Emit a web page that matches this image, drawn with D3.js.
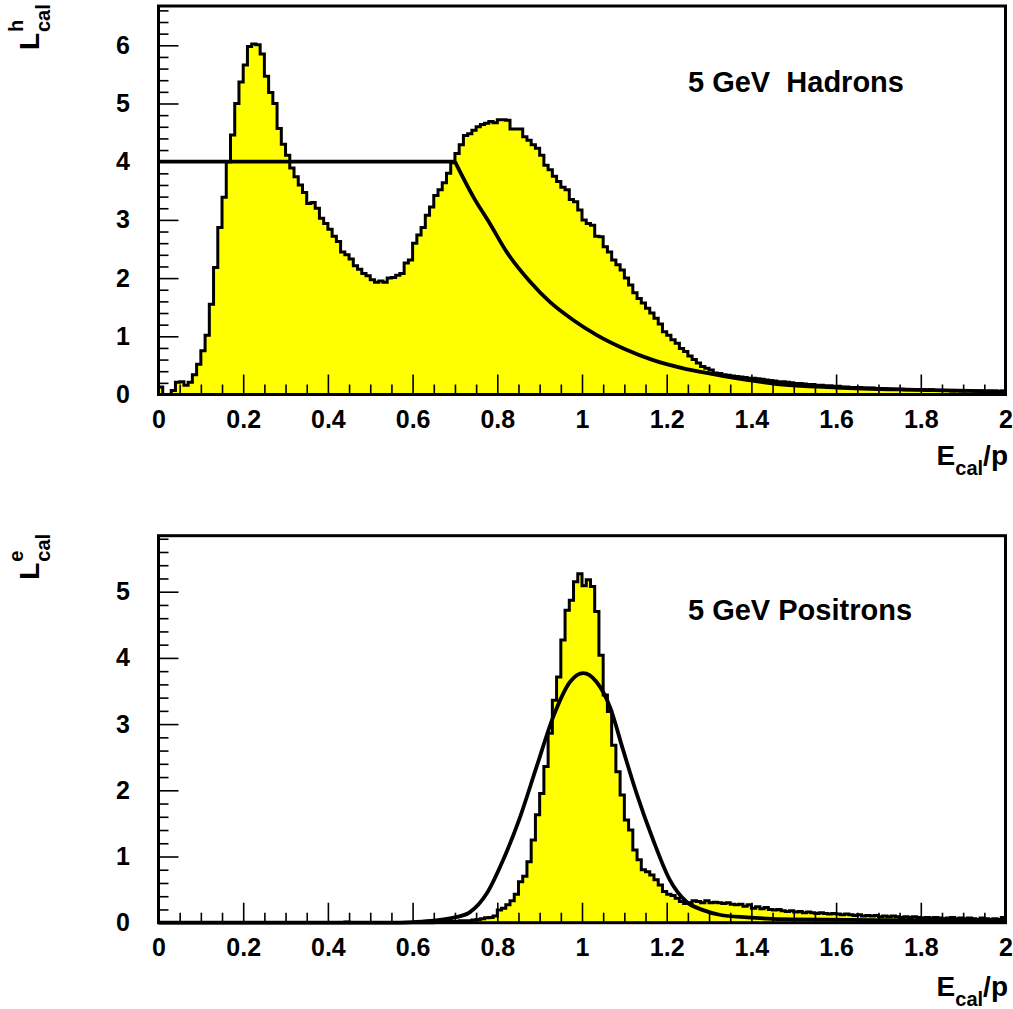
<!DOCTYPE html>
<html>
<head>
<meta charset="utf-8">
<script src="https://cdn.jsdelivr.net/npm/d3@7"></script>
<style>
  body { margin: 0; background: #fff; }
  svg text { font-family: "Liberation Sans", Arial, Helvetica, sans-serif; font-weight: bold; fill: #000; }
</style>
</head>
<body>
<script>
// E_cal/p range, 200 bins of 0.01
var xRange = [0, 2];
var xMajorTicks = [0, 0.2, 0.4, 0.6, 0.8, 1, 1.2, 1.4, 1.6, 1.8, 2];

// 5 GeV hadrons, L^h_cal histogram (bins of 0.01 from 0 to 2)
var hadronHist = [
  0.13, 0.00, 0.00, 0.07, 0.21, 0.22, 0.16, 0.21, 0.34, 0.52,
  0.75, 1.02, 1.55, 2.18, 2.87, 3.39, 4.00, 4.46, 5.00, 5.37,
  5.66, 5.98, 6.02, 6.01, 5.85, 5.47, 5.19, 5.00, 4.57, 4.30,
  4.11, 3.89, 3.74, 3.60, 3.47, 3.28, 3.30, 3.20, 3.03, 2.94,
  2.84, 2.72, 2.63, 2.45, 2.40, 2.33, 2.21, 2.15, 2.08, 2.04,
  1.97, 1.93, 1.95, 1.93, 2.00, 2.01, 2.05, 2.08, 2.26, 2.31,
  2.60, 2.74, 2.87, 3.08, 3.22, 3.42, 3.52, 3.64, 3.80, 3.98,
  4.14, 4.29, 4.45, 4.48, 4.54, 4.60, 4.64, 4.66, 4.69, 4.67,
  4.72, 4.72, 4.71, 4.56, 4.56, 4.56, 4.43, 4.37, 4.29, 4.23,
  4.11, 3.94, 3.86, 3.75, 3.66, 3.56, 3.52, 3.35, 3.31, 3.17,
  3.00, 2.94, 2.91, 2.72, 2.71, 2.54, 2.45, 2.31, 2.23, 2.14,
  2.00, 1.88, 1.75, 1.65, 1.57, 1.48, 1.40, 1.31, 1.21, 1.08,
  1.02, 0.94, 0.88, 0.79, 0.74, 0.66, 0.60, 0.54, 0.48, 0.45,
  0.42, 0.37, 0.36, 0.34, 0.33, 0.32, 0.31, 0.30, 0.29, 0.28,
  0.28, 0.27, 0.26, 0.25, 0.24, 0.23, 0.22, 0.22, 0.21, 0.20,
  0.19, 0.19, 0.18, 0.17, 0.17, 0.16, 0.16, 0.15, 0.15, 0.14,
  0.14, 0.13, 0.13, 0.12, 0.12, 0.12, 0.11, 0.11, 0.11, 0.10,
  0.10, 0.10, 0.09, 0.09, 0.09, 0.09, 0.08, 0.08, 0.08, 0.08,
  0.08, 0.07, 0.08, 0.07, 0.07, 0.07, 0.07, 0.06, 0.07, 0.06,
  0.06, 0.07, 0.06, 0.06, 0.06, 0.05, 0.06, 0.06, 0.05, 0.06
];
// fitted likelihood curve: flat part then falling tail
var hadronFitX = [0, 0.70, 0.743, 0.783, 0.822, 0.877, 0.924, 0.979, 1.035, 1.098, 1.168, 1.239, 1.31, 1.389, 1.46, 1.6, 1.8, 2.0];
var hadronFitY = [4.0, 4.0, 3.40, 2.93, 2.45, 1.94, 1.59, 1.28, 1.02, 0.79, 0.59, 0.45, 0.35, 0.25, 0.18, 0.12, 0.08, 0.05];

// 5 GeV positrons, L^e_cal histogram
var positronHist = [
  0, 0, 0, 0, 0, 0, 0, 0, 0, 0,
  0, 0, 0, 0, 0, 0, 0, 0, 0, 0,
  0, 0, 0, 0, 0, 0, 0, 0, 0, 0,
  0, 0, 0, 0, 0, 0, 0, 0, 0, 0,
  0, 0, 0, 0, 0.01, 0, 0, 0, 0, 0,
  0, 0, 0, 0, 0, 0, 0, 0, 0, 0,
  0, 0, 0, 0, 0, 0.01, 0.01, 0.01, 0.02, 0.02,
  0.02, 0.03, 0.03, 0.03, 0.04, 0.05, 0.06, 0.075, 0.08, 0.10,
  0.19, 0.22, 0.27, 0.33, 0.43, 0.62, 0.70, 0.92, 1.25, 1.63,
  1.95, 2.36, 2.86, 3.36, 3.71, 4.27, 4.72, 4.87, 5.15, 5.27,
  5.09, 5.18, 5.08, 4.70, 4.04, 3.44, 3.19, 2.68, 2.28, 1.93,
  1.55, 1.40, 1.10, 0.95, 0.80, 0.77, 0.72, 0.65, 0.57, 0.47,
  0.43, 0.41, 0.37, 0.32, 0.29, 0.30, 0.33, 0.32, 0.30, 0.33,
  0.30, 0.31, 0.30, 0.29, 0.30, 0.28, 0.27, 0.28, 0.25, 0.27,
  0.22, 0.24, 0.21, 0.23, 0.20, 0.19, 0.20, 0.18, 0.17, 0.18,
  0.16, 0.17, 0.15, 0.16, 0.15, 0.14, 0.15, 0.14, 0.13, 0.14,
  0.13, 0.12, 0.13, 0.12, 0.11, 0.12, 0.10, 0.11, 0.10, 0.11,
  0.09, 0.10, 0.09, 0.10, 0.09, 0.08, 0.09, 0.08, 0.09, 0.08,
  0.07, 0.08, 0.07, 0.08, 0.07, 0.06, 0.07, 0.08, 0.06, 0.07,
  0.06, 0.07, 0.06, 0.05, 0.07, 0.06, 0.05, 0.06, 0.05, 0.08
];
var positronFitX = [0, 0.55, 0.60, 0.65, 0.70, 0.7355, 0.775, 0.814, 0.854, 0.893, 0.932, 0.972, 1.003, 1.034, 1.066, 1.097, 1.129, 1.168, 1.207, 1.246, 1.286, 1.325, 1.39, 1.5, 1.7, 2.0];
var positronFitY = [0, 0, 0.01, 0.03, 0.08, 0.16, 0.44, 0.95, 1.60, 2.36, 3.11, 3.64, 3.77, 3.64, 3.26, 2.61, 1.95, 1.25, 0.65, 0.32, 0.19, 0.12, 0.08, 0.05, 0.04, 0.03];

var W = 1013, H = 1009;
var svg = d3.select("body").append("svg").attr("width", W).attr("height", H);

var panels = [
  { top: 6, bottom: 394.5, yMax: 6.675, yTicks: [0, 1, 2, 3, 4, 5, 6],
    hist: hadronHist, fitX: hadronFitX, fitY: hadronFitY, flatEnd: 0.70,
    sup: "h", label: "5 GeV  Hadrons", labelY: 91.5, titleOff: 70.5 },
  { top: 535.7, bottom: 922.7, yMax: 5.846, yTicks: [0, 1, 2, 3, 4, 5],
    hist: positronHist, fitX: positronFitX, fitY: positronFitY, flatEnd: null,
    sup: "e", label: "5 GeV Positrons", labelY: 620, titleOff: 73.5 }
];

var left = 158.5, right = 1005.5;

panels.forEach(function(p) {
  var x = d3.scaleLinear().domain(xRange).range([left, right]);
  var y = d3.scaleLinear().domain([0, p.yMax]).range([p.bottom, p.top]);
  var g = svg.append("g");

  // histogram steps
  var n = p.hist.length, bw = (xRange[1] - xRange[0]) / n;
  var pts = [[xRange[0], 0]];
  p.hist.forEach(function(v, i) { pts.push([xRange[0] + i * bw, v]); });
  pts.push([xRange[1], p.hist[n - 1]]);
  pts.push([xRange[1], 0]);
  var step = d3.line().x(function(d) { return x(d[0]); }).y(function(d) { return y(d[1]); })
      .curve(d3.curveStepAfter);
  g.append("path").attr("d", step(pts))
      .attr("fill", "#ffff00").attr("stroke", "#000")
      .attr("stroke-width", 3).attr("stroke-linejoin", "miter");

  // fit curve
  var fit = p.fitX.map(function(v, i) { return [v, p.fitY[i]]; });
  var line = d3.line().x(function(d) { return x(d[0]); }).y(function(d) { return y(d[1]); });
  if (p.flatEnd !== null) {
    var flat = fit.filter(function(d) { return d[0] <= p.flatEnd; });
    var tail = fit.filter(function(d) { return d[0] >= p.flatEnd; });
    g.append("path").attr("d", line.curve(d3.curveLinear)(flat))
        .attr("fill", "none").attr("stroke", "#000").attr("stroke-width", 3.8);
    g.append("path").attr("d", line.curve(d3.curveMonotoneX)(tail))
        .attr("fill", "none").attr("stroke", "#000").attr("stroke-width", 3.8);
  } else {
    g.append("path").attr("d", line.curve(d3.curveMonotoneX)(fit))
        .attr("fill", "none").attr("stroke", "#000").attr("stroke-width", 3.8);
  }

  // x axis: major + minor ticks pointing inside
  var xMinor = d3.range(0, 41).map(function(i) { return i * 0.05; })
      .filter(function(v) { return Math.abs(v * 5 - Math.round(v * 5)) > 1e-6; });
  var gx = g.append("g").attr("transform", "translate(0," + p.bottom + ")");
  gx.call(d3.axisBottom(x).tickValues(xMajorTicks).tickSizeInner(-20).tickSizeOuter(0)
      .tickPadding(15.5).tickFormat(d3.format("~g")));
  gx.append("g").call(d3.axisBottom(x).tickValues(xMinor).tickSizeInner(-10).tickSizeOuter(0)
      .tickFormat(""));
  gx.selectAll(".domain").remove();
  gx.selectAll(".tick line").attr("stroke", "#000").attr("stroke-width", 1.6);
  gx.selectAll(".tick text").attr("font-size", 25).attr("fill", "#000");

  // y axis
  var yMinor = d3.range(0, Math.floor(p.yMax * 5 + 1e-6) + 1).map(function(i) { return i * 0.2; })
      .filter(function(v) { return Math.abs(v - Math.round(v)) > 1e-6; });
  var gy = g.append("g").attr("transform", "translate(" + left + ",0)");
  gy.call(d3.axisLeft(y).tickValues(p.yTicks).tickSizeInner(-20).tickSizeOuter(0)
      .tickPadding(28.5).tickFormat(d3.format("d")));
  gy.append("g").call(d3.axisLeft(y).tickValues(yMinor).tickSizeInner(-10).tickSizeOuter(0)
      .tickFormat(""));
  gy.selectAll(".domain").remove();
  gy.selectAll(".tick line").attr("stroke", "#000").attr("stroke-width", 1.6);
  gy.selectAll(".tick text").attr("font-size", 25).attr("fill", "#000");

  // frame
  g.append("rect").attr("x", left).attr("y", p.top)
      .attr("width", right - left).attr("height", p.bottom - p.top)
      .attr("fill", "none").attr("stroke", "#000").attr("stroke-width", 3);

  // panel label
  g.append("text").attr("x", 688).attr("y", p.labelY)
      .attr("font-size", 29).style("white-space", "pre").text(p.label);

  // x title E_cal/p
  var xt = g.append("text").attr("x", 1008).attr("y", p.bottom + p.titleOff)
      .attr("text-anchor", "end").attr("font-size", 28);
  xt.append("tspan").text("E");
  xt.append("tspan").attr("dy", 10).attr("font-size", 20).text("cal");
  xt.append("tspan").attr("dy", -10).attr("font-size", 28).text("/p");

  // y title L^h_cal, rotated
  var yt = g.append("g").attr("transform", "translate(39," + (p.top + 44) + ") rotate(-90)");
  yt.append("text").attr("x", 0).attr("y", 0).attr("font-size", 28).text("L");
  yt.append("text").attr("x", 18).attr("y", -16).attr("font-size", 20).text(p.sup);
  yt.append("text").attr("x", 18).attr("y", 11).attr("font-size", 20).text("cal");
});
</script>
</body>
</html>
